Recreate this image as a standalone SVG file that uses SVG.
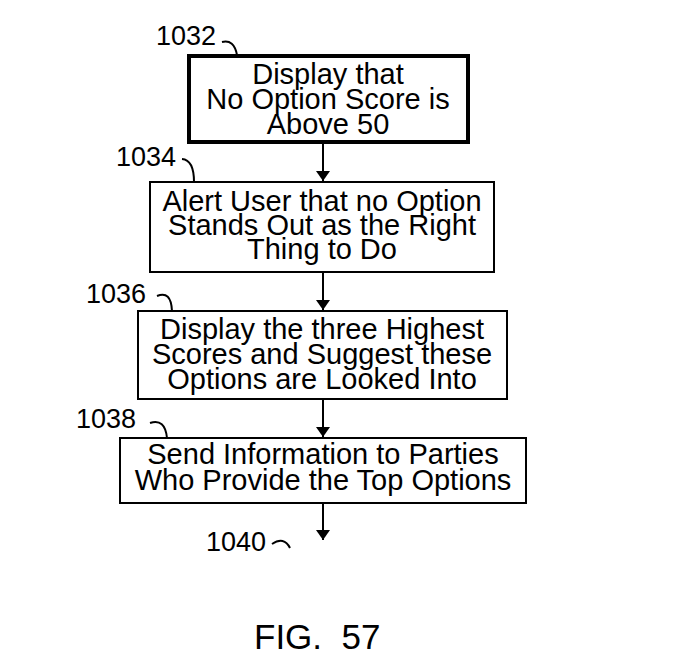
<svg xmlns="http://www.w3.org/2000/svg" width="700" height="667" viewBox="0 0 700 667">
<style>
.box{fill:#fff;stroke:#000;stroke-width:2}
.thick{stroke-width:4}
.t{font-family:"Liberation Sans",Arial,sans-serif;font-size:29px;text-anchor:middle;fill:#000}
.lbl{font-family:"Liberation Sans",Arial,sans-serif;font-size:27px;fill:#000}
.fig{font-family:"Liberation Sans",Arial,sans-serif;font-size:35px;fill:#000}
.c{fill:none;stroke:#000;stroke-width:2}
.hook{fill:none;stroke:#000;stroke-width:2}
</style>
<defs>
<marker id="ah" viewBox="0 0 10 14" refX="10" refY="7" markerWidth="10" markerHeight="14" markerUnits="userSpaceOnUse" orient="auto">
<path d="M0,0 L10,7 L0,14 Z" fill="#000"/>
</marker>
</defs>
<rect width="700" height="667" fill="#fff"/>
<g id="connectors">
<line class="c" x1="323" y1="143" x2="323" y2="181" marker-end="url(#ah)"/>
<line class="c" x1="323" y1="272" x2="323" y2="310" marker-end="url(#ah)"/>
<line class="c" x1="323" y1="399" x2="323" y2="437" marker-end="url(#ah)"/>
<line class="c" x1="323" y1="503" x2="323" y2="540" marker-end="url(#ah)"/>
</g>
<g id="n1032">
<rect class="box thick" x="189" y="56" width="279" height="86"/>
<text class="t" x="328" y="84">Display that</text>
<text class="t" x="328" y="109">No Option Score is</text>
<text class="t" x="328" y="134">Above 50</text>
<text class="lbl" x="156" y="45">1032</text>
<path class="hook" d="M222,42 Q234,39 237,55"/>
</g>
<g id="n1034">
<rect class="box" x="150" y="182" width="344" height="90"/>
<text class="t" x="322" y="211">Alert User that no Option</text>
<text class="t" x="322" y="235">Stands Out as the Right</text>
<text class="t" x="322" y="259">Thing to Do</text>
<text class="lbl" x="116" y="166">1034</text>
<path class="hook" d="M182,159 Q194,160 194,182"/>
</g>
<g id="n1036">
<rect class="box" x="138" y="311" width="369" height="88"/>
<text class="t" x="322" y="339">Display the three Highest</text>
<text class="t" x="322" y="364">Scores and Suggest these</text>
<text class="t" x="322" y="389">Options are Looked Into</text>
<text class="lbl" x="86" y="303">1036</text>
<path class="hook" d="M157,296 Q171,290 172,311"/>
</g>
<g id="n1038">
<rect class="box" x="120" y="438" width="406" height="65"/>
<text class="t" x="323" y="464">Send Information to Parties</text>
<text class="t" x="323" y="490">Who Provide the Top Options</text>
<text class="lbl" x="76" y="428">1038</text>
<path class="hook" d="M150,423 Q165,418 167,438"/>
</g>
<g id="n1040">
<text class="lbl" x="206" y="551">1040</text>
<path class="hook" d="M272,544 Q284,536 290,548"/>
</g>
<text class="fig" x="254" y="649" xml:space="preserve">FIG.  57</text>
</svg>
